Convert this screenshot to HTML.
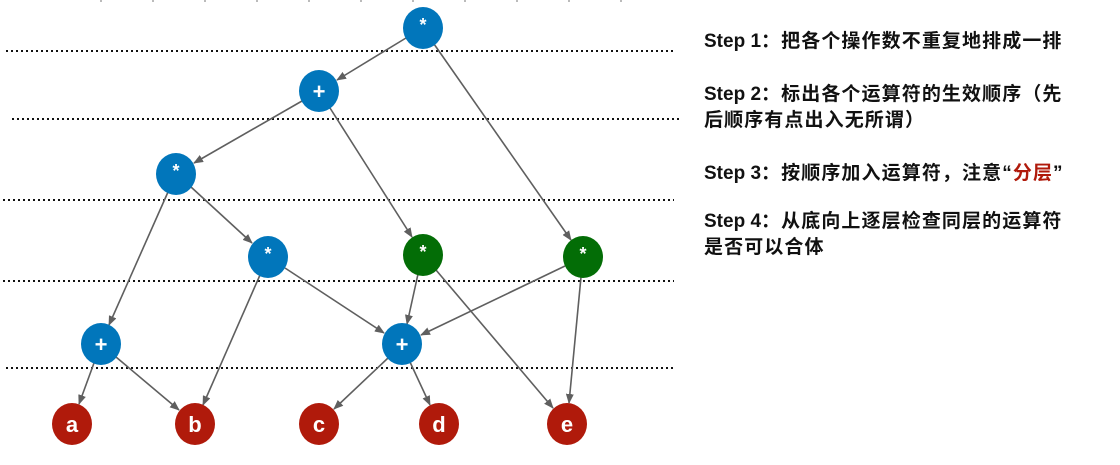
<!DOCTYPE html>
<html><head><meta charset="utf-8"><style>
body{margin:0;background:#fff;width:1120px;height:465px;overflow:hidden;position:relative}
svg{position:absolute;left:0;top:0}
.t{position:absolute;left:704px;font:bold 19px "Liberation Sans","Noto Sans CJK SC",sans-serif;letter-spacing:1.1px;color:#111;line-height:26px;width:410px;white-space:nowrap}
.s{letter-spacing:0}
</style></head><body>
<svg width="1120" height="465">
<defs><marker id="ar" markerWidth="10" markerHeight="8" refX="9" refY="4" orient="auto" markerUnits="userSpaceOnUse"><path d="M0,0 L10,4 L0,8 Z" fill="#5f5f5f"/></marker></defs>
<g stroke="#111" stroke-width="2" stroke-dasharray="2 3">
<line x1="6" y1="51" x2="676" y2="51"/><line x1="12" y1="119" x2="681" y2="119"/>
<line x1="3" y1="200" x2="674" y2="200"/><line x1="3" y1="281" x2="674" y2="281"/>
<line x1="6" y1="368" x2="676" y2="368"/>
</g>
<line x1="100" y1="1" x2="640" y2="1" stroke="#bbb" stroke-width="2" stroke-dasharray="2 50"/>
<g stroke="#5f5f5f" stroke-width="1.6" marker-end="url(#ar)">
<line x1="406" y1="38" x2="337" y2="80"/><line x1="434" y1="44" x2="571" y2="240"/>
<line x1="302" y1="101" x2="194" y2="163"/><line x1="330" y1="108" x2="412" y2="237"/>
<line x1="168" y1="192" x2="109" y2="325"/><line x1="191" y1="187" x2="252" y2="243"/>
<line x1="260" y1="275" x2="203" y2="405"/><line x1="285" y1="268" x2="384" y2="333"/>
<line x1="418" y1="274" x2="407" y2="324"/><line x1="436" y1="270" x2="553" y2="408"/>
<line x1="565" y1="266" x2="421" y2="335"/><line x1="581" y1="277" x2="569" y2="403"/>
<line x1="94" y1="363" x2="79" y2="404"/><line x1="116" y1="357" x2="179" y2="410"/>
<line x1="388" y1="358" x2="334" y2="409"/><line x1="410" y1="362" x2="430" y2="405"/>
</g>
<g font-family="Liberation Sans,sans-serif" font-weight="bold" fill="#fff" text-anchor="middle">
<g fill="#0176bb"><ellipse cx="423" cy="28" rx="20" ry="21"/><ellipse cx="319" cy="91" rx="20" ry="21"/><ellipse cx="176" cy="174" rx="20" ry="21"/><ellipse cx="268" cy="257" rx="20" ry="21"/><ellipse cx="101" cy="344" rx="20" ry="21"/><ellipse cx="402" cy="344" rx="20" ry="21"/></g>
<g fill="#036d06"><ellipse cx="423" cy="255" rx="20" ry="21"/><ellipse cx="583" cy="257" rx="20" ry="21"/></g>
<g fill="#b01a0b"><ellipse cx="72" cy="424" rx="20" ry="21"/><ellipse cx="195" cy="424" rx="20" ry="21"/><ellipse cx="319" cy="424" rx="20" ry="21"/><ellipse cx="439" cy="424" rx="20" ry="21"/><ellipse cx="567" cy="424" rx="20" ry="21"/></g>
<g font-size="18"><text x="423" y="31">*</text><text x="176" y="177">*</text><text x="268" y="260">*</text><text x="423" y="258">*</text><text x="583" y="260">*</text></g>
<g font-size="22"><text x="319" y="99">+</text><text x="101" y="352">+</text><text x="402" y="352">+</text></g>
<g font-size="22"><text x="72" y="432">a</text><text x="195" y="432">b</text><text x="319" y="432">c</text><text x="439" y="432">d</text><text x="567" y="432">e</text></g>
</g>
</svg>
<div class="t" style="top:29px"><span class="s">Step 1</span>：把各个操作数不重复地排成一排</div>
<div class="t" style="top:82px"><span class="s">Step 2</span>：标出各个运算符的生效顺序（先<br>后顺序有点出入无所谓）</div>
<div class="t" style="top:161px"><span class="s">Step 3</span>：按顺序加入运算符，注意“<span style="color:#b01a0b">分层</span>”</div>
<div class="t" style="top:209px"><span class="s">Step 4</span>：从底向上逐层检查同层的运算符<br>是否可以合体</div>
</body></html>
